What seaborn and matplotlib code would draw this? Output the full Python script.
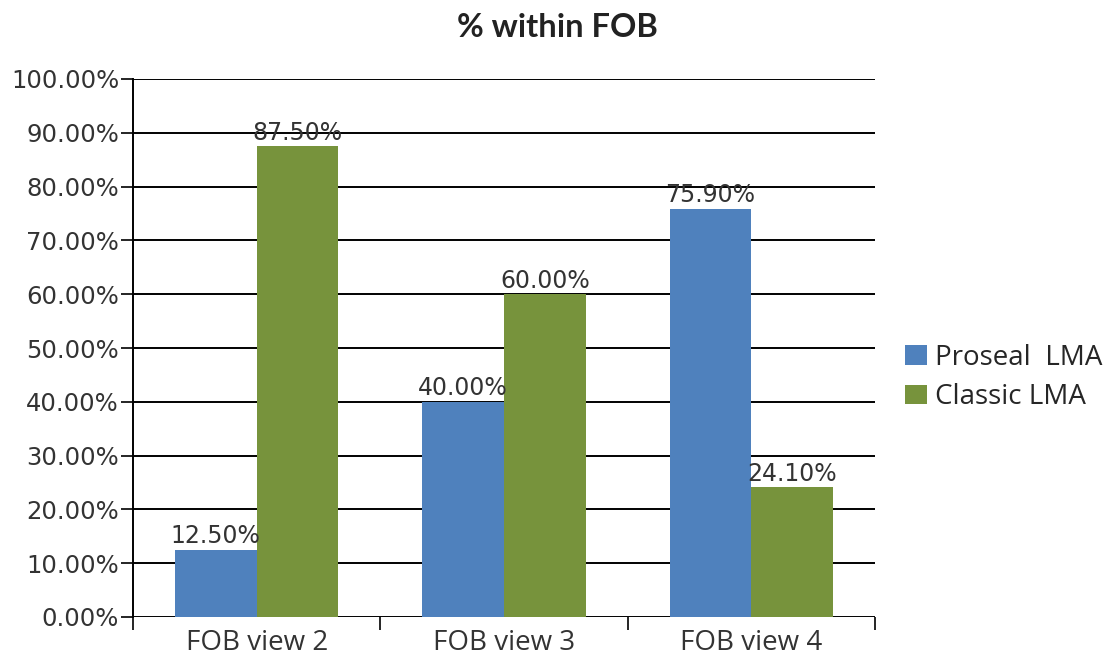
import matplotlib
matplotlib.use("Agg")
import matplotlib.pyplot as plt
import seaborn as sns
import pandas as pd
import numpy as np
from matplotlib.ticker import FixedLocator, PercentFormatter

categories = ["FOB view 2", "FOB view 3", "FOB view 4"]
series = ["Proseal  LMA", "Classic LMA"]
proseal = [12.50, 40.00, 75.90]
classic = [87.50, 60.00, 24.10]
colors = ["#4F81BD", "#77933C"]

df = pd.DataFrame({
    "cat": categories * 2,
    "series": [series[0]] * 3 + [series[1]] * 3,
    "val": proseal + classic,
})

sns.set_style("white")
plt.rcParams["font.family"] = ["DejaVu Sans"]

fig = plt.figure(figsize=(11.06, 6.64), dpi=100)
ax = fig.add_axes([133/1106, 47/664, (875-133)/1106, (617-79)/664])

sns.barplot(data=df, x="cat", y="val", hue="series", order=categories,
            hue_order=series, palette=colors, width=0.66, gap=0,
            saturation=1, linewidth=0, ax=ax, legend=True)

ax.set_ylim(0, 100)
ax.set_xlim(-0.5, 2.5)
ax.set_yticks(np.arange(0, 101, 10))
ax.yaxis.set_major_formatter(PercentFormatter(decimals=2))
ax.yaxis.grid(True, color="black", linewidth=1.4)
ax.set_axisbelow(True)
ax.set_xlabel("")
ax.set_ylabel("")

for s in ["top", "right", "bottom"]:
    ax.spines[s].set_visible(False)
ax.spines["left"].set_color("black")
ax.spines["left"].set_linewidth(1.4)

ax.tick_params(axis="y", direction="out", length=9, width=1.2, color="black",
               labelsize=17.5, labelcolor="#333333", pad=1, left=True)
ax.tick_params(axis="x", which="major", length=0, labelsize=20,
               labelcolor="#333333", pad=9)
for lab in ax.get_xticklabels():
    lab.set_fontfamily("Open Sans")
ax.xaxis.set_minor_locator(FixedLocator([-0.5, 0.5, 1.5, 2.5]))
ax.tick_params(axis="x", which="minor", direction="out", length=9, width=1.2,
               color="black", bottom=True)

for cont in ax.containers:
    ax.bar_label(cont, labels=[f"{v:.2f}%" for v in cont.datavalues],
                 fontsize=17, color="#333333", padding=1)

leg = ax.legend(loc="upper left", bbox_to_anchor=(905/1106, 1 - 344/664),
                bbox_transform=fig.transFigure, frameon=False,
                prop={"family": "Open Sans", "size": 20},
                handlelength=0.8, handleheight=0.72, handletextpad=0.29,
                labelspacing=0.4, borderpad=0, borderaxespad=0)

fig.text(557/1106, 1 - 37/664, "% within FOB", ha="center", va="baseline",
         fontsize=23.5, fontweight="bold", family="Lato", color="#222222")

fig.savefig("out.png", dpi=100, facecolor="white")
